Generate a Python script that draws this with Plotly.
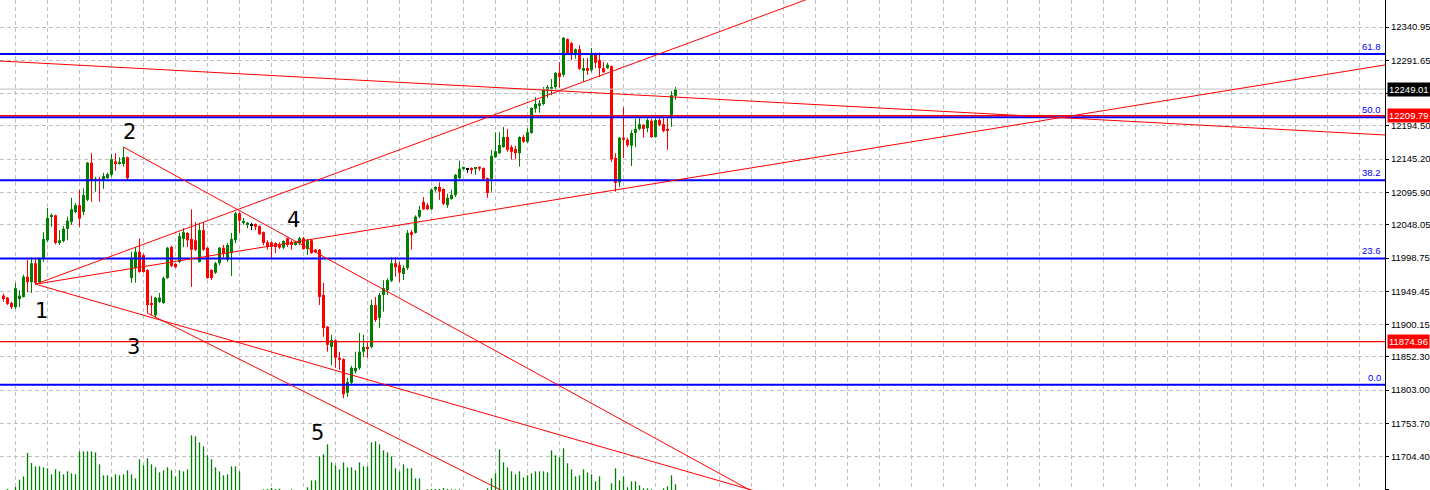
import plotly.graph_objects as go

# ---------------- data (hourly candles) ----------------
open_ = [
    11943, 11940, 11932, 11926, 11938, 11941, 11971, 11963, 11991, 11963,
    11999, 12025, 12060, 12062, 12021, 12024, 12042, 12052, 12067, 12077,
    12067, 12085, 12140, 12113, 12116, 12114, 12117, 12122, 12142, 12138,
    12138, 12148, 11969, 11984, 12008, 12003, 11981, 11932, 11914, 11934,
    11932, 11969, 12015, 11990, 11993, 12027, 12036, 12027, 12025, 11993,
    12040, 12014, 11981, 11977, 11991, 12014, 11996, 12006, 12025, 12065,
    12051, 12049, 12048, 12049, 12046, 12037, 12022, 12022, 12021, 12018,
    12014, 12028, 12022, 12018, 12021, 12028, 12012, 12025, 12011, 12011,
    11944, 11897, 11867, 11877, 11851, 11849, 11799, 11814, 11831, 11836,
    11860, 11867, 11867, 11929, 11910, 11944, 11951, 11965, 11991, 11988,
    11975, 11984, 12037, 12036, 12060, 12082, 12077, 12071, 12100, 12104,
    12101, 12077, 12086, 12092, 12117, 12131, 12131, 12132, 12131, 12134,
    12132, 12117, 12116, 12148, 12154, 12163, 12178, 12163, 12160, 12154,
    12178, 12171, 12184, 12220, 12224, 12227, 12246, 12249, 12252, 12273,
    12270, 12323, 12317, 12301, 12308, 12276, 12280, 12277, 12300, 12292,
    12280, 12280, 12283, 12147, 12111, 12177, 12174, 12165, 12184, 12190,
    12196, 12191, 12202, 12178, 12203, 12197, 12190, 12206, 12239,
]
high = [
    11946, 11941, 11934, 11962, 11951, 11974, 11996, 12000, 11999, 11999,
    12037, 12073, 12065, 12063, 12040, 12046, 12060, 12088, 12080, 12100,
    12102, 12141, 12154, 12119, 12119, 12125, 12125, 12153, 12154, 12148,
    12163, 12149, 12008, 12015, 12028, 12005, 11982, 11943, 11941, 11947,
    11971, 12015, 12017, 11991, 12036, 12043, 12037, 12071, 12052, 12051,
    12052, 12015, 11982, 11993, 12015, 12018, 12021, 12036, 12067, 12067,
    12058, 12052, 12051, 12050, 12047, 12038, 12025, 12023, 12022, 12022,
    12025, 12029, 12025, 12024, 12030, 12030, 12027, 12027, 12012, 12012,
    11962, 11898, 11885, 11878, 11860, 11850, 11821, 11839, 11860, 11888,
    11885, 11874, 11937, 11941, 11947, 11966, 11969, 12000, 12000, 11993,
    11988, 12040, 12040, 12062, 12076, 12089, 12080, 12102, 12105, 12111,
    12102, 12094, 12100, 12123, 12143, 12134, 12132, 12133, 12133, 12134,
    12133, 12118, 12159, 12185, 12185, 12193, 12190, 12166, 12165, 12179,
    12181, 12191, 12222, 12237, 12233, 12252, 12255, 12264, 12274, 12289,
    12326, 12324, 12319, 12309, 12314, 12295, 12295, 12310, 12303, 12303,
    12289, 12288, 12284, 12154, 12178, 12222, 12177, 12188, 12205, 12206,
    12197, 12206, 12205, 12206, 12206, 12206, 12206, 12246, 12252,
]
low = [
    11934, 11929, 11923, 11923, 11926, 11940, 11948, 11947, 11959, 11962,
    11993, 12022, 12045, 12019, 12018, 12022, 12025, 12048, 12065, 12045,
    12062, 12083, 12082, 12097, 12082, 12101, 12116, 12119, 12128, 12137,
    12134, 12114, 11962, 11962, 11977, 11977, 11917, 11914, 11911, 11932,
    11931, 11968, 11985, 11984, 11991, 12015, 12015, 11956, 12009, 11992,
    12009, 11968, 11966, 11975, 11988, 11999, 11993, 11972, 12021, 12036,
    12048, 12043, 12040, 12040, 12033, 12018, 12011, 11999, 12006, 12012,
    12012, 12015, 12011, 12017, 12018, 12011, 12003, 12005, 12006, 11929,
    11882, 11860, 11840, 11836, 11833, 11791, 11793, 11811, 11828, 11833,
    11852, 11851, 11865, 11904, 11895, 11919, 11944, 11963, 11971, 11963,
    11966, 11981, 12011, 12035, 12058, 12070, 12070, 12070, 12097, 12085,
    12077, 12073, 12085, 12089, 12116, 12129, 12125, 12123, 12122, 12128,
    12114, 12088, 12097, 12147, 12153, 12162, 12156, 12145, 12145, 12134,
    12169, 12169, 12183, 12214, 12214, 12225, 12236, 12240, 12248, 12251,
    12267, 12301, 12292, 12294, 12277, 12260, 12270, 12274, 12280, 12267,
    12273, 12279, 12141, 12097, 12104, 12147, 12163, 12135, 12163, 12188,
    12177, 12185, 12177, 12177, 12194, 12185, 12159, 12193, 12233,
]
close = [
    11938, 11931, 11926, 11954, 11943, 11971, 11963, 11991, 11962, 11997,
    12027, 12058, 12062, 12021, 12025, 12042, 12054, 12071, 12077, 12057,
    12092, 12140, 12114, 12116, 12114, 12120, 12123, 12145, 12138, 12140,
    12148, 12117, 11999, 12008, 11978, 11978, 11929, 11929, 11940, 11940,
    11969, 12014, 11987, 11985, 12031, 12037, 12025, 12011, 12011, 12040,
    12011, 11969, 11969, 11991, 12014, 12006, 12018, 12027, 12065, 12054,
    12052, 12051, 12048, 12045, 12034, 12021, 12015, 12015, 12015, 12014,
    12024, 12018, 12018, 12022, 12028, 12012, 12025, 12006, 12008, 11941,
    11895, 11870, 11877, 11851, 11848, 11797, 11815, 11836, 11836, 11860,
    11867, 11865, 11929, 11907, 11944, 11954, 11966, 11991, 11985, 11977,
    11984, 12036, 12033, 12060, 12070, 12071, 12071, 12100, 12104, 12097,
    12079, 12088, 12092, 12122, 12131, 12132, 12131, 12129, 12132, 12131,
    12116, 12095, 12150, 12157, 12166, 12178, 12159, 12156, 12154, 12178,
    12171, 12185, 12221, 12227, 12228, 12248, 12252, 12252, 12273, 12267,
    12325, 12302, 12302, 12308, 12279, 12280, 12276, 12300, 12288, 12280,
    12274, 12285, 12145, 12110, 12177, 12174, 12166, 12184, 12190, 12197,
    12190, 12203, 12178, 12203, 12196, 12187, 12187, 12240, 12249.01,
]
volume = [
    0, 30, 0, 90, 310, 410, 1110, 810, 710, 710,
    680, 650, 470, 620, 560, 470, 560, 500, 470, 1160,
    1160, 1160, 1160, 1130, 770, 440, 440, 380, 470, 440,
    470, 590, 470, 350, 920, 740, 950, 770, 680, 530,
    590, 680, 590, 410, 590, 560, 620, 1640, 1610, 1430,
    1310, 1040, 920, 680, 560, 440, 470, 710, 710, 560,
    0, 0, 0, 0, 0, 20, 30, 60, 30, 40,
    0, 0, 20, 0, 0, 0, 80, 290, 290, 1010,
    1070, 1370, 830, 740, 620, 830, 680, 680, 590, 830,
    710, 710, 1430, 1460, 1370, 1190, 1130, 1010, 650, 560,
    770, 650, 650, 350, 350, 0, 20, 30, 30, 30,
    60, 30, 20, 20, 20, 0, 0, 0, 0, 0,
    0, 50, 350, 500, 1220, 830, 680, 560, 470, 560,
    380, 440, 500, 560, 560, 560, 530, 1190, 1040, 980,
    1250, 800, 620, 410, 440, 620, 530, 470, 260, 410,
    0, 0, 200, 650, 290, 410, 80, 260, 260, 140,
    50, 50, 20, 0, 0, 50, 110, 440, 170,
]

# price-axis labels
tick_values = [12340.95, 12291.65, 12243.08, 12194.50, 12145.20, 12095.90, 12048.05,
               11998.75, 11949.45, 11900.15, 11852.30, 11803.00, 11753.70, 11704.40, 11655.55]
tick_labels = ["12340.95", "12291.65", "12243.08", "12194.50", "12145.20", "12095.90", "12048.05",
               "11998.75", "11949.45", "11900.15", "11852.30", "11803.00", "11753.70", "11704.40", "11655.55"]

# Fibonacci retracement
fib_low = 11811.0
fib_high = 12603.7
fib_ratios = [0.0, 23.6, 38.2, 50.0, 61.8]

# trend lines: (bar index, price) anchor pairs, drawn as rays to the right
trend_lines = [
    (-0.9, 12290.6, 345.3, 12181.0),
    (8.0, 11960.0, 200.0, 12380.0),
    (8.0, 11960.0, 345.3, 12284.7),
    (30.0, 12163.0, 186.6, 11655.0),
    (8.0, 11960.0, 186.6, 11655.7),
    (36.0, 11917.0, 124.0, 11656.0),
]

# horizontal price lines
bid_price = 12249.01
red_levels = [12209.79, 11874.96]

# wave labels
wave_text = ["1", "2", "3", "4", "5"]
wave_x = [9.4, 31.4, 32.4, 72.4, 78.6]
wave_y = [11920.0, 12185.5, 11867.0, 12055.0, 11739.6]

# ---------------- styling ----------------
UP = "#008000"
DOWN = "#ff0000"
DOJI = "#000000"
VOL = "#008000"
GRID = "#c0c0c0"
FONT = "Liberation Sans"

X_MIN, X_MAX = -0.875, 345.375
Y_MIN, Y_MAX = 11655.06, 12380.95

n = len(close)
idx = list(range(n))

fig = go.Figure()

# volume (overlay axis)
vx, vy = [], []
for i, v in zip(idx, volume):
    if v > 0:
        vx += [i, i, None]
        vy += [0, v, None]
fig.add_trace(go.Scatter(x=vx, y=vy, mode="lines", yaxis="y2",
                         line=dict(color=VOL, width=1.3), hoverinfo="skip"))

# candles
wick = {UP: ([], []), DOWN: ([], []), DOJI: ([], [])}
bx, bbase, bh, bcol = [], [], [], []
for i, o, h, l, c in zip(idx, open_, high, low, close):
    col = UP if c > o else (DOWN if c < o else DOJI)
    wick[col][0].extend([i, i, None])
    wick[col][1].extend([l, h, None])
    lo_b, hi_b = min(o, c), max(o, c)
    hgt = max(hi_b - lo_b, 1.5)
    bx.append(i)
    bbase.append((lo_b + hi_b) / 2 - hgt / 2)
    bh.append(hgt)
    bcol.append(col)

for col, (wx, wy) in wick.items():
    fig.add_trace(go.Scatter(x=wx, y=wy, mode="lines",
                             line=dict(color=col, width=1), hoverinfo="skip"))
fig.add_trace(go.Bar(x=bx, y=bh, base=bbase, width=0.75,
                     marker=dict(color=bcol, line=dict(width=0)), hoverinfo="skip"))

# horizontal lines
fig.add_trace(go.Scatter(x=[X_MIN - 5, X_MAX + 5], y=[bid_price, bid_price], mode="lines",
                         line=dict(color="#c0c0c0", width=1), hoverinfo="skip"))
for lvl in fib_ratios:
    p = fib_low + (fib_high - fib_low) * lvl / 100.0
    fig.add_trace(go.Scatter(x=[X_MIN - 5, X_MAX + 5], y=[p, p], mode="lines",
                             line=dict(color="#0000ff", width=2), hoverinfo="skip"))
for p in red_levels:
    fig.add_trace(go.Scatter(x=[X_MIN - 5, X_MAX + 5], y=[p, p], mode="lines",
                             line=dict(color="#ff0000", width=1.2), hoverinfo="skip"))

# trend lines (rays)
for (i0, p0, i1, p1) in trend_lines:
    slope = (p1 - p0) / (i1 - i0)
    xe = X_MAX + 10
    fig.add_trace(go.Scatter(x=[i0, xe], y=[p0, p0 + slope * (xe - i0)], mode="lines",
                             line=dict(color="#ff0000", width=1), hoverinfo="skip"))

annotations = []
# fib level labels
for lvl in fib_ratios:
    p = fib_low + (fib_high - fib_low) * lvl / 100.0
    annotations.append(dict(xref="paper", yref="y", x=1, y=p, xanchor="right", yanchor="bottom",
                            xshift=-2, yshift=0, text=f"{lvl:.1f}", showarrow=False,
                            font=dict(family=FONT, size=9.5, color="#0000ff")))
# price boxes on the axis
annotations.append(dict(xref="paper", yref="y", x=1, y=bid_price, xanchor="left", yanchor="middle",
                        xshift=2, text=f"{bid_price:.2f}", showarrow=False, bgcolor="#000000",
                        borderpad=1, font=dict(family=FONT, size=9.5, color="#ffffff")))
for p in red_levels:
    annotations.append(dict(xref="paper", yref="y", x=1, y=p, xanchor="left", yanchor="middle",
                            xshift=2, text=f"{p:.2f}", showarrow=False, bgcolor="#ff0000",
                            borderpad=1, font=dict(family=FONT, size=9.5, color="#ffffff")))
# wave labels
for t, x, y in zip(wave_text, wave_x, wave_y):
    annotations.append(dict(xref="x", yref="y", x=x, y=y, text=t, showarrow=False,
                            xanchor="center", yanchor="middle",
                            font=dict(family="DejaVu Sans", size=21, color="#000000")))

fig.update_layout(
    width=1430, height=490,
    margin=dict(l=0, r=45, t=0, b=0, pad=0),
    paper_bgcolor="#ffffff", plot_bgcolor="#ffffff",
    showlegend=False, barmode="overlay",
    font=dict(family=FONT, size=9.5, color="#000000"),
    annotations=annotations,
    xaxis=dict(range=[X_MIN, X_MAX], showticklabels=False, ticks="",
               tick0=3, dtick=8, showgrid=True, gridcolor=GRID, griddash="4px,3px",
               gridwidth=1, zeroline=False, showline=False, fixedrange=True),
    yaxis=dict(range=[Y_MIN, Y_MAX], side="right", tickmode="array",
               tickvals=tick_values, ticktext=tick_labels,
               showgrid=True, gridcolor=GRID, griddash="4px,3px", gridwidth=1,
               zeroline=False, showline=True, linecolor="#000000", linewidth=1,
               ticks="outside", ticklen=3, tickcolor="#000000", automargin=False,
               tickfont=dict(family=FONT, size=9.5, color="#000000"), fixedrange=True),
    yaxis2=dict(range=[0, 14700], overlaying="y", visible=False, fixedrange=True),
)

fig.write_html(
    "out.html",
    config={"displayModeBar": False},
    post_script="document.body.style.margin='0';document.body.style.overflow='hidden';",
)
